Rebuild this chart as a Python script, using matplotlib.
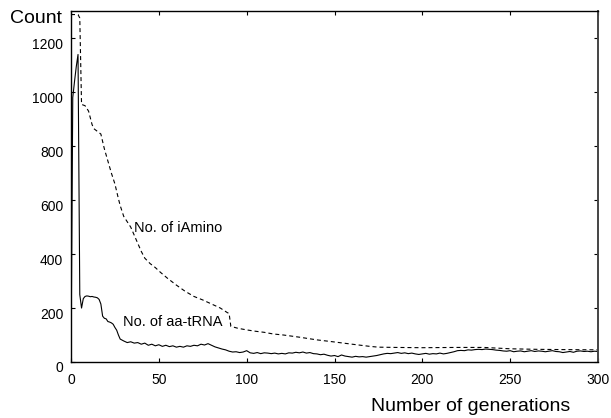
import matplotlib
matplotlib.use("Agg")
import matplotlib.pyplot as plt
import matplotlib.transforms as mtransforms

plt.rcParams['font.family'] = ['Liberation Sans', 'DejaVu Sans']

# ---- data ----
gen_amino = [0, 4, 5, 6, 8, 10, 12, 13, 15, 17, 19, 21, 23, 25, 27, 28, 30, 32, 34, 36,
             38, 40, 42, 45, 48, 51, 55, 60, 65, 70, 75, 80, 85, 89, 90, 91, 95, 100,
             105, 110, 115, 121, 130, 140, 149, 160, 170, 175, 185, 200, 220, 235, 250,
             265, 280, 300]
iamino = [1288, 1288, 1275, 955, 950, 930, 880, 865, 855, 845, 790, 745, 700, 660, 605,
          580, 540, 520, 500, 470, 440, 410, 385, 365, 350, 332, 310, 285, 262, 243, 230,
          215, 200, 183, 180, 132, 125, 119, 114, 110, 104, 100, 92, 82, 75, 66, 58, 55,
          54, 53, 54, 54, 49, 47, 46, 45]

gen_trna = [0, 1, 2, 3, 4, 5, 6, 7, 8, 9, 10, 11, 12, 13, 14, 15, 16, 17, 18, 19, 20,
            21, 22, 23, 24, 25, 26, 27, 28, 30, 32, 34, 36, 38, 40, 42, 44, 46, 48, 50,
            52, 54, 56, 58, 60, 62, 64, 66, 68, 70, 72, 74, 76, 78, 80, 82, 84, 86, 88,
            90, 92, 94, 96, 98, 100, 102, 104, 106, 108, 110, 112, 114, 116, 118, 120,
            122, 124, 126, 128, 130, 132, 134, 136, 138, 140, 142, 144, 146, 148, 150,
            152, 154, 156, 158, 160, 162, 164, 166, 168, 170, 172, 174, 176, 178, 180,
            182, 184, 186, 188, 190, 192, 194, 196, 198, 200, 202, 204, 206, 208, 210,
            212, 214, 216, 218, 220, 222, 224, 226, 228, 230, 232, 234, 236, 238, 240,
            242, 244, 246, 248, 250, 252, 254, 256, 258, 260, 262, 264, 266, 268, 270,
            272, 274, 276, 278, 280, 282, 284, 286, 288, 290, 292, 294, 296, 298, 300]
aa_trna = [0, 980, 1040, 1095, 1140, 250, 200, 235, 243, 245, 244, 242, 243, 241, 240,
           238, 232, 215, 170, 162, 160, 150, 148, 145, 140, 128, 118, 100, 85,
           78, 72, 75, 70, 72, 66, 70, 62, 66, 60, 64, 58, 62, 57, 60, 55, 58, 55, 60,
           58, 62, 60, 66, 63, 68, 62, 56, 52, 48, 45, 40, 37, 38, 35, 37, 42, 34, 32,
           35, 31, 34, 33, 31, 33, 30, 32, 30, 34, 33, 36, 34, 37, 33, 35, 31, 30, 27,
           29, 25, 22, 24, 20, 26, 22, 20, 18, 21, 19, 20, 18, 20, 22, 24, 27, 30, 32,
           31, 33, 35, 32, 34, 31, 33, 30, 28, 30, 32, 29, 31, 30, 33, 30, 32, 35, 38,
           42, 43, 42, 45, 44, 46, 47, 46, 48, 47, 46, 44, 43, 41, 40, 42, 38, 40, 41,
           38, 40, 42, 39, 41, 40, 38, 40, 42, 39, 38, 35, 37, 39, 36, 40, 41, 39, 40,
           38, 40, 39]

x_ticks = [0, 50, 100, 150, 200, 250, 300]
y_ticks = [0, 200, 400, 600, 800, 1000, 1200]

# ---- figure ----
fig = plt.figure(figsize=(6.11, 4.18), dpi=100)
ax = fig.add_axes([71/611, 1 - 362/418, (598 - 71)/611, (362 - 10.5)/418])

ax.plot(gen_amino, iamino, color='black', lw=0.8, linestyle=(0, (3.6, 2.7)))
ax.plot(gen_trna, aa_trna, color='black', lw=0.8)

ax.set_xlim(0, 300)
ax.set_ylim(0, 1303)
ax.set_xticks(x_ticks)
ax.set_yticks(y_ticks)
ax.tick_params(direction='in', top=True, right=True, length=3, width=0.8,
               labelsize=10)
ax.tick_params(axis='x', pad=8)
ax.tick_params(axis='y', pad=5.5)
for sp in ax.spines.values():
    sp.set_linewidth(1.0)
ax.spines['right'].set_color('#444444')
ax.spines['right'].set_linewidth(1.4)

offset = mtransforms.ScaledTranslation(0, -5/100, fig.dpi_scale_trans)
for lab in ax.get_yticklabels():
    lab.set_transform(lab.get_transform() + offset)

ax.text(35.8, 496, 'No. of iAmino', fontsize=10.5, ha='left', va='center')
ax.text(29.5, 148, 'No. of aa-tRNA', fontsize=10.5, ha='left', va='center')

fig.text(10/611, 1 - 23/418, 'Count', fontsize=14, ha='left', va='baseline')
fig.text(471/611, 1 - 411/418, 'Number of generations', fontsize=14,
         ha='center', va='baseline')

fig.savefig('out.png', dpi=100)
